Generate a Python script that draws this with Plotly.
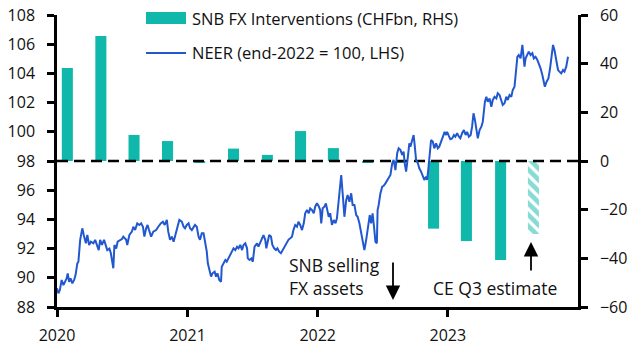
import plotly.graph_objects as go
import pandas as pd

# ---------------- data ----------------
# NEER index (end-2022 = 100), days since 2020-01-01
neer_days = [0,4,8,13,18,22,27,30,34,38,43,48,52,57,60,65,71,76,81,85,
             90,95,102,107,112,117,121,126,132,137,141,147,151,155,158,161,166,170,177,182,
             186,194,197,203,210,214,219,225,231,236,241,245,250,254,258,264,270,278,284,291,
             297,302,308,312,317,322,327,331,336,343,350,355,359,364,369,373,378,383,387,392,
             397,401,406,411,416,420,423,427,432,436,442,446,450,455,460,462,467,472,476,481,
             486,490,495,500,505,509,514,519,523,528,533,535,540,545,549,554,561,565,570,575,
             579,584,587,590,595,600,604,609,614,618,623,628,633,637,643,649,654,659,663,668,
             673,677,682,687,692,696,701,706,710,715,720,724,729,734,738,741,745,750,754,759,
             762,766,771,776,781,785,790,795,797,801,806,811,815,820,825,829,834,839,843,848,
             853,857,862,867,871,874,877,881,885,889,893,897,899,902,907,912,916,921,926,930,
             935,940,944,949,954,958,963,968,972,975,979,984,988,991,996,1000,1003,1007,1012,1016,
             1021,1026,1030,1035,1038,1041,1045,1049,1054,1058,1063,1068,1072,1077,1082,1087,1091,1094,1099,1103,
             1108,1113,1117,1122,1127,1131,1136,1141,1146,1150,1155,1160,1164,1168,1172,1176,1180,1185,1190,1194,
             1197,1200,1204,1208,1213,1218,1222,1227,1232,1236,1241,1246,1250,1255,1260,1264,1269,1274,1278,1283,
             1286,1291,1295,1300,1305,1308,1311,1314,1319,1323,1328,1333,1337,1342,1347,1351,1356,1361,1365,1368,
             1373,1378,1382,1386,1391,1395,1400,1405,1409,1414,1419,1423,1428,1431,1433]
neer_values = [89.28,88.94,89.16,89.85,89.5,89.73,89.96,90.3,89.73,89.96,89.62,89.85,90.19,90.99,91.1,92.6,93.39,92.82,92.36,92.93,
               92.25,92.47,92.36,92.6,92.25,91.9,92.6,92.25,92.6,92.13,91.9,92.0,91.68,91.1,90.65,92.25,92.0,92.47,92.6,92.65,
               92.82,92.6,92.25,92.93,93.16,93.5,93.27,93.73,93.62,93.73,93.5,92.82,93.39,93.62,93.27,92.82,93.16,93.27,93.5,93.73,
               93.84,93.62,93.96,93.16,92.6,92.82,92.47,92.82,93.39,93.96,93.84,93.5,93.39,93.62,93.73,93.39,93.27,93.5,93.62,93.5,
               92.82,92.6,93.05,93.05,92.36,91.79,90.99,90.53,90.08,90.31,90.42,90.08,90.31,89.85,89.73,90.76,90.99,91.22,91.1,91.33,
               91.56,91.79,92.02,91.9,92.13,92.02,92.25,91.9,92.25,92.36,92.02,91.33,91.22,91.33,91.1,92.13,92.36,92.13,92.36,92.7,
               92.93,92.6,92.02,92.47,92.93,92.82,92.25,92.02,91.9,92.02,91.79,91.68,91.9,92.13,92.36,92.6,92.7,92.82,93.27,93.62,
               93.5,93.84,93.62,93.27,93.73,94.42,94.64,94.42,94.76,94.64,94.42,94.87,95.1,94.9,94.64,93.73,94.76,94.87,95.1,94.64,
               94.18,94.42,93.62,93.96,93.73,94.08,95.33,96.36,97.04,95.79,94.18,95.33,95.67,95.21,95.79,94.99,94.99,94.3,94.18,93.73,
               93.05,92.36,91.9,92.6,93.27,93.96,94.3,93.73,94.42,93.5,92.47,92.36,94.64,94.99,95.8,96.24,96.3,96.47,96.7,96.82,
               97.04,97.84,98.07,97.38,98.53,98.87,98.76,98.41,98.64,97.84,97.27,98.3,99.21,98.98,99.55,99.78,99.1,98.07,97.84,97.5,
               97.27,96.93,96.7,96.93,96.7,97.38,98.76,99.44,99.32,98.87,99.21,98.87,98.98,99.32,99.55,100.0,99.78,100.0,99.7,99.5,
               99.55,99.78,99.66,99.9,99.66,99.55,99.9,100.12,99.78,100.0,99.66,99.78,100.35,101.27,100.81,100.12,99.55,100.12,100.35,100.69,
               101.49,102.06,102.4,102.06,102.29,101.72,102.18,102.4,102.29,102.64,102.52,102.18,101.84,101.95,102.4,102.18,102.52,102.4,102.86,103.09,
               103.77,105.14,105.26,105.03,105.95,105.38,104.46,105.03,105.26,105.49,105.26,105.38,105.03,105.14,104.92,104.69,104.35,103.89,103.43,103.09,
               103.43,103.66,104.23,105.14,105.95,105.6,104.92,104.23,104.12,104.0,104.23,104.12,104.46,104.8,105.14]
assert len(neer_days) == len(neer_values)

# SNB FX interventions (CHFbn), quarterly
fx_dates = ["2020-01-30", "2020-05-03", "2020-08-04", "2020-11-06",
            "2021-02-04", "2021-05-10", "2021-08-13", "2021-11-14",
            "2022-02-14", "2022-05-21", "2022-08-21", "2022-11-22",
            "2023-02-22", "2023-05-29"]
fx_values = [38.2, 51.4, 10.7, 8.2, -0.5, 5.1, 2.5, 12.3, 5.3, -0.8, -0.8, -27.8, -32.9, -40.7]

est_dates = ["2023-08-29"]
est_values = [-30.0]

zero_x = ["2020-01-01", "2024-01-01"]
zero_y = [0, 0]

x_ticks = ["2020-01-01", "2021-01-01", "2022-01-01", "2023-01-01"]
x_tick_labels = ["2020", "2021", "2022", "2023"]

# ---------------- style ----------------
TEAL = "#0FB8AA"
BLUE = "#2258CF"
FONT = "Open Sans"
TXT = "#111111"
W = 634
H = 354
L, R, T, B = 57, 56, 15, 47

neer_dates = pd.Timestamp("2020-01-01") + pd.to_timedelta(neer_days, unit="D")
bar_w = 31 * 24 * 3600 * 1000

fig = go.Figure()
fig.add_trace(go.Bar(x=fx_dates, y=fx_values, width=bar_w, marker=dict(color=TEAL, line=dict(width=0)),
                     yaxis="y", showlegend=False))
fig.add_trace(go.Bar(x=est_dates, y=est_values, width=bar_w,
                     marker=dict(color="white", line=dict(width=0),
                                 pattern=dict(shape="\\", fgcolor=TEAL, bgcolor="white", size=8, solidity=0.6)),
                     yaxis="y", showlegend=False))
fig.add_trace(go.Scatter(x=zero_x, y=zero_y, mode="lines", yaxis="y",
                         line=dict(color="black", width=2.5, dash="11px,6px"), showlegend=False))
fig.add_trace(go.Scatter(x=neer_dates, y=neer_values, mode="lines", yaxis="y2",
                         line=dict(color=BLUE, width=2), showlegend=False))

axis_common = dict(showgrid=False, zeroline=False, showline=True, linecolor="black", linewidth=2.5,
                   ticks="outside", ticklen=7, tickwidth=2.5, tickcolor="black", automargin=False,
                   tickfont=dict(family=FONT, size=16, color=TXT))

fig.update_layout(
    width=W, height=H, margin=dict(l=L, r=R, t=T, b=B),
    paper_bgcolor="white", plot_bgcolor="white",
    barmode="overlay",
    xaxis=dict(range=["2020-01-01", "2024-01-01"], type="date", tickvals=x_ticks, ticktext=x_tick_labels,
               ticklabelstandoff=5, **axis_common),
    yaxis=dict(side="right", range=[-60, 60], tickvals=[-60, -40, -20, 0, 20, 40, 60],
               ticklabelstandoff=9, **axis_common),
    yaxis2=dict(side="left", overlaying="y", range=[88, 108], tickvals=list(range(88, 109, 2)),
                ticklabelstandoff=9, **axis_common),
)

def px_x(p):
    return (p - L) / (W - L - R)

def px_y(p):
    return (H - B - p) / (H - T - B)

# custom legend
fig.add_shape(type="rect", xref="paper", yref="paper", x0=px_x(146), x1=px_x(186), y0=px_y(24), y1=px_y(12),
              fillcolor=TEAL, line=dict(width=0))
fig.add_shape(type="line", xref="paper", yref="paper", x0=px_x(146), x1=px_x(186), y0=px_y(53), y1=px_y(53),
              line=dict(color=BLUE, width=2))
fig.add_annotation(text="SNB FX Interventions (CHFbn, RHS)", xref="paper", yref="paper", x=px_x(190), y=px_y(18),
                   xanchor="left", yanchor="middle", showarrow=False, font=dict(family=FONT, size=16.5, color=TXT))
fig.add_annotation(text="NEER (end-2022 = 100, LHS)", xref="paper", yref="paper", x=px_x(190), y=px_y(53),
                   xanchor="left", yanchor="middle", showarrow=False, font=dict(family=FONT, size=16.5, color=TXT))

# annotations
for txt, xx, yy in [("SNB selling", 287, 265), ("FX assets", 287, 288), ("CE Q3 estimate", 431, 288)]:
    fig.add_annotation(text=txt, xref="paper", yref="paper", x=px_x(xx), y=px_y(yy), xanchor="left",
                       yanchor="middle", showarrow=False, font=dict(family=FONT, size=17.5, color=TXT))

fig.add_annotation(text="", xref="paper", yref="paper", x=px_x(393), y=px_y(300), ax=0, ay=-39,
                   showarrow=True, arrowhead=2, arrowsize=1.6, arrowwidth=1.8, arrowcolor="black", standoff=0)
fig.add_annotation(text="", xref="paper", yref="paper", x=px_x(531), y=px_y(242), ax=0, ay=30,
                   showarrow=True, arrowhead=2, arrowsize=1.6, arrowwidth=1.8, arrowcolor="black", standoff=0)

fig.write_html("out.html")
